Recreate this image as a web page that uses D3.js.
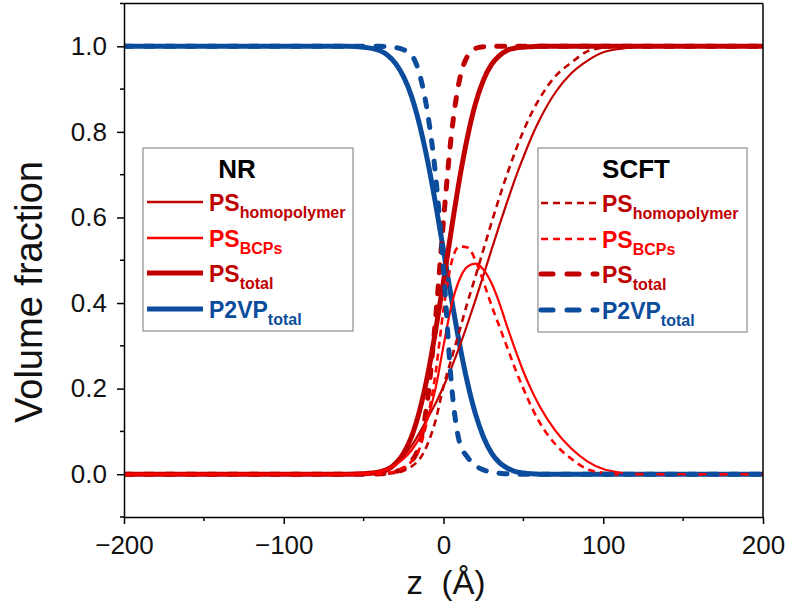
<!DOCTYPE html>
<html><head><meta charset="utf-8">
<script src="https://cdn.jsdelivr.net/npm/d3@7"></script>
<style>body{margin:0;background:#fff}svg{display:block}</style>
</head><body>
<svg id="chart" width="792" height="609"></svg>
<script>
// ---- data ----
const z = [-200,-80,-60,-50,-40,-35,-30,-25,-20,-15,-10,-5,0,5,10,15,20,25,30,35,40,45,50,55,60,70,80,90,100,110,120,140,200];
const nrP2VPtotal = [1,1,1.000,0.998,0.990,0.979,0.960,0.929,0.883,0.817,0.733,0.633,0.523,0.410,0.305,0.214,0.141,0.087,0.050,0.027,0.014,0.006,0.003,0.001,0,0,0,0,0,0,0,0,0];
const nrPStotal   = [0,0,0,0.001,0.005,0.011,0.025,0.049,0.088,0.148,0.230,0.334,0.451,0.573,0.689,0.788,0.866,0.921,0.957,0.978,0.991,0.996,0.998,0.999,1,1,1,1,1,1,1,1,1];
const nrPShomo    = [0,0,0,0.002,0.008,0.015,0.026,0.042,0.066,0.097,0.131,0.165,0.205,0.249,0.298,0.351,0.407,0.465,0.524,0.582,0.638,0.692,0.741,0.787,0.827,0.892,0.937,0.966,0.986,0.994,0.998,1,1];
const nrPSBCPs    = [0,0,0,0.002,0.006,0.012,0.022,0.036,0.056,0.085,0.130,0.200,0.300,0.395,0.455,0.485,0.492,0.478,0.447,0.400,0.343,0.290,0.240,0.197,0.160,0.102,0.060,0.030,0.012,0.004,0.001,0,0];
const scftP2VPtotal = [1,1,1,1,1,0.999,0.997,0.992,0.980,0.935,0.845,0.700,0.480,0.210,0.075,0.040,0.020,0.010,0.005,0.002,0.001,0,0,0,0,0,0,0,0,0,0,0,0];
const scftPStotal   = [0,0,0,0,0.001,0.002,0.006,0.013,0.030,0.070,0.173,0.362,0.593,0.795,0.921,0.977,0.995,0.999,1,1,1,1,1,1,1,1,1,1,1,1,1,1,1];
const scftPShomo    = [0,0,0,0,0,0.001,0.003,0.008,0.018,0.035,0.070,0.125,0.205,0.270,0.335,0.401,0.462,0.525,0.587,0.647,0.703,0.755,0.802,0.843,0.877,0.930,0.962,0.988,0.997,1,1,1,1];
const scftPSBCPs    = [0,0,0,0,0.001,0.003,0.007,0.015,0.030,0.060,0.130,0.235,0.385,0.495,0.532,0.530,0.500,0.450,0.395,0.345,0.295,0.245,0.200,0.158,0.122,0.070,0.036,0.012,0.003,0,0,0,0];

const xTicks = [-200,-100,0,100,200];
const xMinor = [-150,-50,50,150];
const yTicks = [0,0.2,0.4,0.6,0.8,1.0];
const yMinor = [-0.1,0.1,0.3,0.5,0.7,0.9,1.1];
const xTitle = "z  (Å)";
const yTitle = "Volume fraction";
const nrTitle = "NR", scftTitle = "SCFT";
const legendMain = ["PS","PS","PS","P2VP"];
const legendSub  = ["homopolymer","BCPs","total","total"];

// ---- styles ----
const DARK = "#c00000", BRIGHT = "#ff0000", BLUE = "#0b4c9c";
const series = [
  {v: nrP2VPtotal, c: BLUE, w: 5, dash: null},
  {v: nrPStotal, c: DARK, w: 5, dash: null},
  {v: scftPStotal, c: DARK, w: 5, dash: "8,13", cap: "round"},
  {v: nrPShomo, c: DARK, w: 2.2, dash: null},
  {v: nrPSBCPs, c: BRIGHT, w: 2.2, dash: null},
  {v: scftPShomo, c: DARK, w: 2.6, dash: "7,5"},
  {v: scftPSBCPs, c: BRIGHT, w: 2.6, dash: "7,5"},
  {v: scftP2VPtotal, c: BLUE, w: 5, dash: "8,13", cap: "round"}
];
const legendStyles = {
  nr: [{c: DARK, w: 2.6}, {c: BRIGHT, w: 2.4}, {c: DARK, w: 5}, {c: BLUE, w: 5}],
  scft: [{c: DARK, w: 2.6, dash: "7,5"}, {c: BRIGHT, w: 2.6, dash: "7,5"}, {c: DARK, w: 5, dash: "12,14", cap: "round"}, {c: BLUE, w: 5, dash: "12,14", cap: "round"}]
};
const textColors = [DARK, BRIGHT, DARK, BLUE];

const L = 124, R = 763, T = 3.5, B = 517;
const svg = d3.select("#chart");
const FONT = "'Liberation Sans', Arial, sans-serif";

const x = d3.scaleLinear().domain([-200,200]).range([L,R]);
const y = d3.scaleLinear().domain([-0.1,1.1]).range([B,T]);

svg.append("defs").append("clipPath").attr("id","clip")
  .append("rect").attr("x",L).attr("y",T).attr("width",R-L).attr("height",B-T);

// curves
const gCurves = svg.append("g").attr("clip-path","url(#clip)");
series.forEach(s => {
  const pts = z.map((zz,i) => [zz, s.v[i]]);
  gCurves.append("path").datum(pts)
    .attr("d", d3.line().x(d => x(d[0])).y(d => y(d[1])).curve(d3.curveMonotoneX))
    .attr("fill","none").attr("stroke", s.c).attr("stroke-width", s.w)
    .attr("stroke-dasharray", s.dash).attr("stroke-linecap", s.cap || "butt")
    .attr("stroke-linejoin","round");
});

// frame top/right
svg.append("line").attr("x1",L).attr("x2",R).attr("y1",T).attr("y2",T).attr("stroke","#000").attr("stroke-width",1.5);
svg.append("line").attr("x1",R).attr("x2",R).attr("y1",T).attr("y2",B).attr("stroke","#000").attr("stroke-width",1.5);

// axes
const xAxis = svg.append("g").attr("transform",`translate(0,${B})`)
  .call(d3.axisBottom(x).tickValues(xTicks).tickSize(7).tickPadding(12).tickSizeOuter(0));
const yAxis = svg.append("g").attr("transform",`translate(${L},0)`)
  .call(d3.axisLeft(y).tickValues(yTicks).tickFormat(d3.format(".1f")).tickSize(7).tickPadding(10).tickSizeOuter(0));
[xAxis,yAxis].forEach(a => {
  a.select(".domain").attr("stroke","#000").attr("stroke-width",1.5);
  a.selectAll(".tick line").attr("stroke","#000").attr("stroke-width",1.5);
  a.selectAll("text").attr("font-family",FONT).attr("font-size",26).attr("fill","#111");
});
xAxis.selectAll(".minor").data(xMinor).enter().append("line")
  .attr("x1",d=>x(d)).attr("x2",d=>x(d)).attr("y1",0).attr("y2",4).attr("stroke","#000").attr("stroke-width",1.5);
yAxis.selectAll(".minor").data(yMinor).enter().append("line")
  .attr("y1",d=>y(d)).attr("y2",d=>y(d)).attr("x1",0).attr("x2",-4).attr("stroke","#000").attr("stroke-width",1.5);

// axis titles
svg.append("text").attr("x",446).attr("y",594).attr("text-anchor","middle")
  .attr("font-family",FONT).attr("font-size",33).attr("fill","#111")
  .style("white-space","pre").text(xTitle);
svg.append("text").attr("transform",`translate(42,${292}) rotate(-90)`).attr("text-anchor","middle")
  .attr("font-family",FONT).attr("font-size",38).attr("fill","#111").text(yTitle);

// legends
function legend(bx, by, bw, bh, title, titleX, lx1, lx2, tx, rows, styles) {
  const g = svg.append("g");
  g.append("rect").attr("x",bx).attr("y",by).attr("width",bw).attr("height",bh)
    .attr("fill","#fff").attr("stroke","#8c8c8c").attr("stroke-width",1.2);
  g.append("text").attr("x",titleX).attr("y",by+30).attr("text-anchor","middle")
    .attr("font-family",FONT).attr("font-weight","bold").attr("font-size",26).attr("fill","#000").text(title);
  rows.forEach((ry,i) => {
    const st = styles[i];
    g.append("line").attr("x1",lx1).attr("x2",lx2).attr("y1",ry).attr("y2",ry)
      .attr("stroke",st.c).attr("stroke-width",st.w).attr("stroke-dasharray",st.dash||null)
      .attr("stroke-linecap",st.cap||"butt");
    const t = g.append("text").attr("x",tx).attr("y",ry+8.5)
      .attr("font-family",FONT).attr("font-weight","bold").attr("fill",textColors[i]);
    t.append("tspan").attr("font-size",23).text(legendMain[i]);
    t.append("tspan").attr("font-size",16).attr("dy",7).text(legendSub[i]);
  });
}
legend(143,148,210,183,nrTitle,237,147,203,209,[202,238,273,309],legendStyles.nr);
legend(538,148,209,184,scftTitle,636,541,597,602,[203,239,274,310],legendStyles.scft);
</script>
</body></html>
